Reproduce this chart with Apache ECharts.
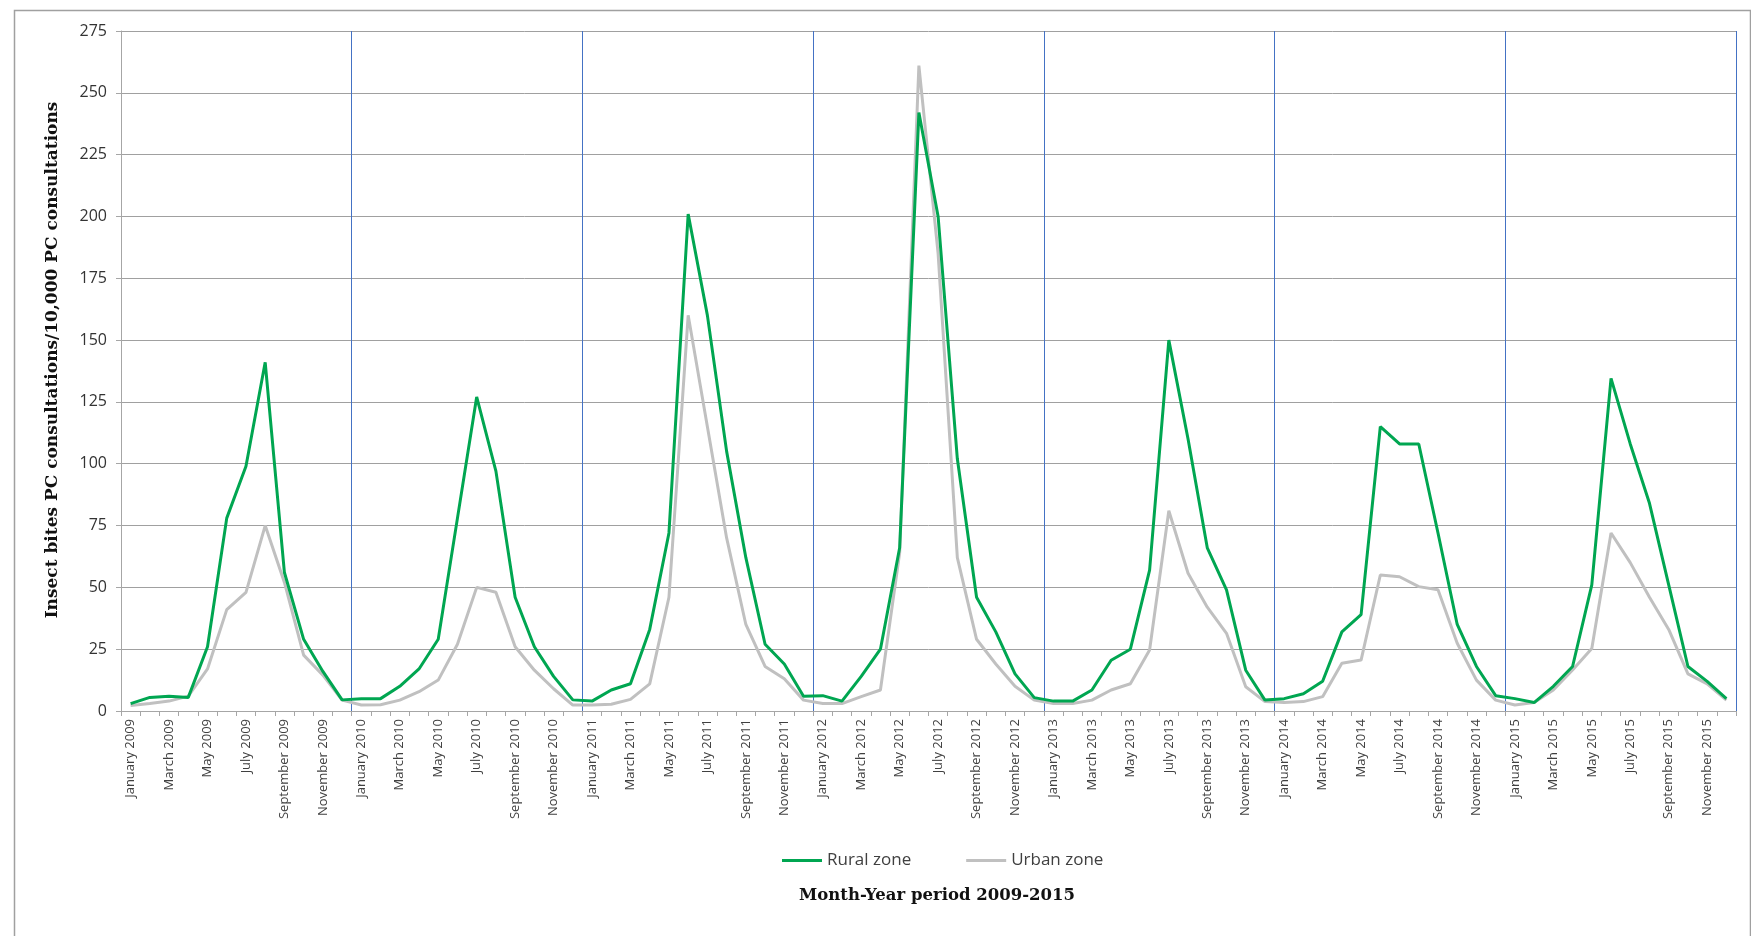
<!DOCTYPE html>
<html><head><meta charset="utf-8">
<script src="https://cdn.jsdelivr.net/npm/echarts@6/dist/echarts.min.js"></script>
<style>html,body{margin:0;padding:0;background:#fff}#chart{width:1751px;height:936px}</style>
</head><body><div id="chart"></div>
<script>
const years = [2009, 2010, 2011, 2012, 2013, 2014, 2015];
const monthNames = ['January','February','March','April','May','June','July','August','September','October','November','December'];
const categories = [];
years.forEach(y => monthNames.forEach(m => categories.push(m + ' ' + y)));

// Rural zone (green)
const rural = [
  3, 5.5, 6, 5.5, 26, 78, 99, 141, 56, 29, 16, 4.5,
  5, 5, 10, 17, 29, 78, 127, 97, 46, 26, 14, 4.5,
  4, 8.5, 11, 33, 72, 201, 160, 105, 62, 27, 19, 6,
  6.2, 4, 14, 25, 66, 242, 200, 102, 46, 32, 15, 5.4,
  4, 4, 8.5, 20.5, 25, 57, 150, 110, 66, 49, 16.5, 4.4,
  5, 7, 12, 32, 39, 115, 108, 108, 72, 35, 18, 6.2,
  5, 3.4, 10, 18, 51, 134.5, 108, 84, 51, 18, 12, 5
];
// Urban zone (gray)
const urban = [
  2.2, 3, 4, 6, 17, 41, 48, 75, 52, 22.6, 14.5, 4.4,
  2.4, 2.5, 4.4, 7.8, 12.5, 27, 50, 48, 26, 16.5, 9, 2.4,
  2.4, 2.7, 4.7, 11, 46, 160, 115, 70, 35, 18, 13, 4.4,
  3, 3, 5.8, 8.5, 64, 261, 185, 62, 29, 19, 10, 4.4,
  3, 3, 4.4, 8.5, 11, 24.7, 81, 55.7, 42, 31.4, 9.8, 3.8,
  3.4, 3.8, 5.8, 19.3, 20.6, 55, 54.3, 50.3, 49, 27.4, 12.5, 4.4,
  2.4, 3.4, 8.5, 16.6, 25.3, 72, 60, 46, 33, 15, 11, 4.4
];
const yTicks = {min: 0, max: 275, step: 25};

const chart = echarts.init(document.getElementById('chart'));
chart.setOption({
  animation: false,
  backgroundColor: '#ffffff',
  grid: {left: 121, right: 15, top: 31, bottom: 225},
  legend: {
    data: ['Rural zone', 'Urban zone'],
    left: 777, top: 847,
    icon: 'rect', itemWidth: 40, itemHeight: 3, itemGap: 55,
    textStyle: {fontFamily: 'Open Sans', fontSize: 17, color: '#404040'}
  },
  xAxis: {
    type: 'category',
    data: categories,
    boundaryGap: true,
    axisLine: {show: true, lineStyle: {color: '#a6a6a6', width: 1}},
    axisTick: {show: true, interval: 0, length: 5, lineStyle: {color: '#a6a6a6'}},
    axisLabel: {interval: 1, rotate: 90, fontSize: 13, fontFamily: 'Open Sans', color: '#404040', margin: 8},
    splitLine: {show: true, interval: (i) => i > 0 && i % 12 === 0, lineStyle: {color: '#4472c4', width: 1}},
    name: 'Month-Year period 2009-2015',
    nameLocation: 'middle',
    nameGap: 176,
    nameTextStyle: {fontFamily: 'DejaVu Serif', fontWeight: 'bold', fontSize: 16.5, color: '#111', padding: [0, 0, 0, 17]}
  },
  yAxis: {
    type: 'value',
    min: yTicks.min, max: yTicks.max, interval: yTicks.step,
    axisLine: {show: true, lineStyle: {color: '#a6a6a6', width: 1}},
    axisTick: {show: true, length: 5, lineStyle: {color: '#a6a6a6'}},
    axisLabel: {fontSize: 16, fontFamily: 'Open Sans', color: '#333', margin: 14},
    splitLine: {show: true, lineStyle: {color: '#a0a0a0', width: 1}},
    name: 'Insect bites PC consultations/10,000 PC consultations',
    nameLocation: 'middle',
    nameRotate: 90,
    nameGap: 60,
    nameTextStyle: {fontFamily: 'DejaVu Serif', fontWeight: 'bold', fontSize: 17, color: '#111', padding: [0, 0, 0, 22]}
  },
  series: [
    {name: 'Rural zone', type: 'line', data: rural, showSymbol: false, symbol: 'none',
     lineStyle: {color: '#00a651', width: 3}, itemStyle: {color: '#00a651'}, z: 3},
    {name: 'Urban zone', type: 'line', data: urban, showSymbol: false, symbol: 'none',
     lineStyle: {color: '#c0c0c0', width: 3}, itemStyle: {color: '#c0c0c0'}, z: 2}
  ],
  graphic: [{
    type: 'rect', left: 12, top: 8, silent: true, z: -10,
    shape: {width: 1736, height: 1000},
    style: {fill: 'none', stroke: '#a0a0a0', lineWidth: 1.5}
  }]
});
</script>
</body></html>
